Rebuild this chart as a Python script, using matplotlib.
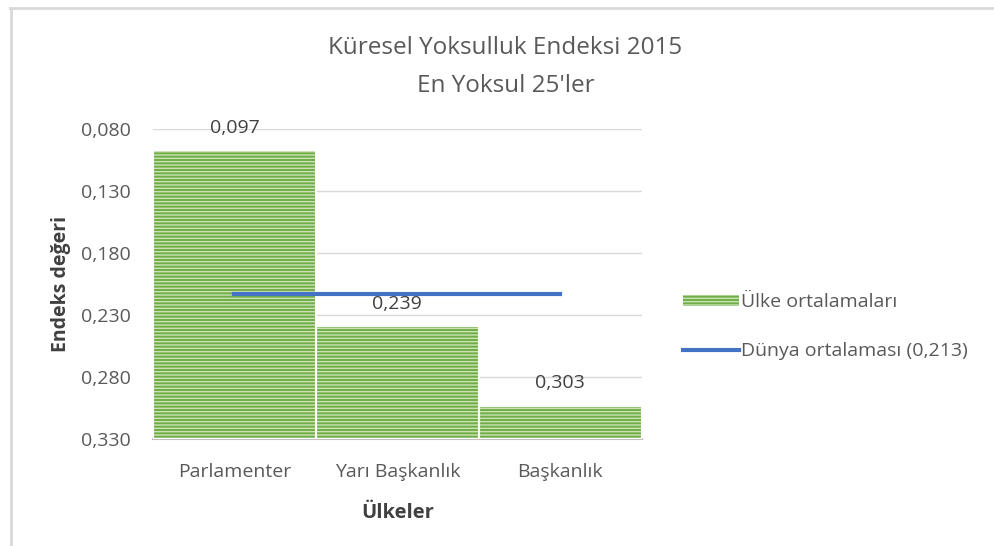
import matplotlib.pyplot as plt
from matplotlib.lines import Line2D
from matplotlib.patches import Patch

ulkeler = ['Parlamenter', 'Yarı Başkanlık', 'Başkanlık']
degerler = [0.097, 0.239, 0.303]
dunya_ort = 0.213
y_ticks = [0.080, 0.130, 0.180, 0.230, 0.280, 0.330]

plt.rcParams['font.family'] = ['Open Sans', 'DejaVu Sans']
plt.rcParams['hatch.linewidth'] = 1.0
plt.rcParams['hatch.color'] = '#c9e3b5'
gri = '#595959'
yesil = '#70ad47'
mavi = '#4472c4'

fig = plt.figure(figsize=(9.95, 5.46), dpi=100)
ax = fig.add_axes([0.1538, 0.196, 0.491, 0.5677])

x = list(range(len(ulkeler)))
taban = 0.330
ax.bar(x, [d - taban for d in degerler], bottom=taban, width=1.0,
       color=yesil, hatch='-----', edgecolor='#c9e3b5', linewidth=0, zorder=2)
ax.bar(x, [d - taban for d in degerler], bottom=taban, width=1.0,
       fill=False, edgecolor='white', linewidth=1.5, zorder=3)
ax.plot([x[0], x[-1]], [dunya_ort, dunya_ort], color=mavi, linewidth=3, zorder=4)

for xi, d in zip(x, degerler):
    ax.annotate(f'{d:.3f}'.replace('.', ','), (xi, d), xytext=(0, 16),
                textcoords='offset points', ha='center', va='center',
                fontsize=14, color='#404040', zorder=5)

ax.set_xlim(-0.5, 2.5)
ax.set_ylim(0.330, 0.080)
ax.set_yticks(y_ticks)
ax.set_yticklabels([f'{t:.3f}'.replace('.', ',') for t in y_ticks])
ax.set_xticks(x)
ax.set_xticklabels(ulkeler)
ax.tick_params(axis='both', length=0, labelsize=14, labelcolor=gri)
ax.tick_params(axis='y', pad=16)
ax.tick_params(axis='x', pad=17)
ax.grid(axis='y', color='#d9d9d9', linewidth=1, zorder=0)
ax.set_axisbelow(True)
for s in ['top', 'right', 'left']:
    ax.spines[s].set_visible(False)
ax.spines['bottom'].set_color('#bfbfbf')
ax.spines['bottom'].set_linewidth(1.5)

ax.set_ylabel('Endeks değeri', fontsize=14, fontweight='bold', color='#404040', labelpad=7)
ax.set_xlabel('Ülkeler', fontsize=14.5, fontweight='bold', color='#404040', labelpad=16)

fig.text(0.508, 0.912, 'Küresel Yoksulluk Endeksi 2015', ha='center', va='center',
         fontsize=17.5, color=gri)
fig.text(0.508, 0.843, "En Yoksul 25'ler", ha='center', va='center',
         fontsize=17.5, color=gri)

handles = [Patch(facecolor=yesil, hatch='-----', edgecolor='#c9e3b5', linewidth=0),
           Line2D([0], [0], color=mavi, linewidth=3)]
fig.legend(handles, ['Ülke ortalamaları', 'Dünya ortalaması (0,213)'],
           loc='center left', bbox_to_anchor=(0.686, 0.402), frameon=False,
           fontsize=14, labelcolor=gri, handlelength=2.9, handleheight=0.5,
           handletextpad=0.1, labelspacing=1.6, borderpad=0, borderaxespad=0)

# çerçeve
fig.add_artist(Line2D([0.010, 1.0], [0.986, 0.986], color='#d9d9d9', linewidth=2,
                      transform=fig.transFigure))
fig.add_artist(Line2D([0.011, 0.011], [0.0, 0.986], color='#d9d9d9', linewidth=2,
                      transform=fig.transFigure))

fig.savefig('out.png', dpi=100)
